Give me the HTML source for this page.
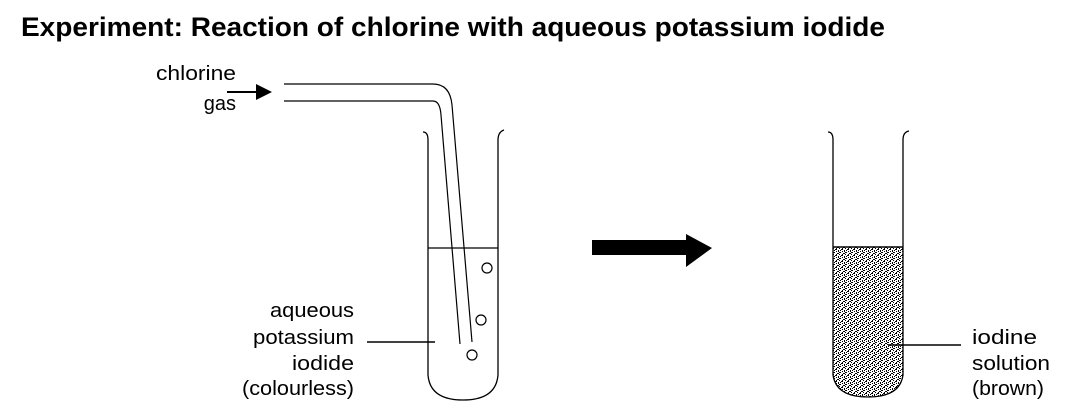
<!DOCTYPE html>
<html><head><meta charset="utf-8"><style>
html,body{margin:0;padding:0;background:#fff;width:1090px;height:420px;overflow:hidden}
svg{display:block}
text{font-family:"Liberation Sans",sans-serif;fill:#000}
</style></head><body>
<svg width="1090" height="420" viewBox="0 0 1090 420" xmlns="http://www.w3.org/2000/svg">
<defs>
<pattern id="st" width="6" height="6" patternUnits="userSpaceOnUse">
<rect width="6" height="6" fill="#fff"/>
<rect x="0" y="0" width="1" height="1" fill="#000"/>
<rect x="3" y="1" width="2" height="1" fill="#000"/>
<rect x="1" y="3" width="2" height="1" fill="#000"/>
<rect x="4" y="4" width="1" height="2" fill="#000"/>
<rect x="2" y="5" width="1" height="1" fill="#000"/>
<rect x="5" y="2" width="1" height="1" fill="#000"/>
<rect x="0" y="4" width="1" height="1" fill="#000"/>
<rect x="2" y="2" width="1" height="1" fill="#000"/>
<rect x="5" y="0" width="1" height="1" fill="#000"/>
</pattern>
</defs>
<text x="21" y="36" font-size="27" font-weight="bold" textLength="864" lengthAdjust="spacingAndGlyphs">Experiment: Reaction of chlorine with aqueous potassium iodide</text>

<text x="236" y="80" font-size="20" text-anchor="end" textLength="80" lengthAdjust="spacingAndGlyphs">chlorine</text>
<text x="236" y="110" font-size="20" text-anchor="end">gas</text>
<line x1="227" y1="92" x2="258" y2="92" stroke="#000" stroke-width="2"/>
<polygon points="256,84 272,92 256,100" fill="#000"/>

<path d="M284 84 L433 84 Q450 84 452 105 L472 342" fill="none" stroke="#000" stroke-width="1.2"/>
<path d="M284 101 L433 101 Q440 101 441 115 L460 344" fill="none" stroke="#000" stroke-width="1.2"/>

<path d="M423 132 Q428 132 428 140 L428 375 Q430 400 463 400 Q496 400 498 375 L498 140 Q498 132 504 130" fill="none" stroke="#000" stroke-width="1.3"/>
<line x1="428" y1="248" x2="498" y2="248" stroke="#000" stroke-width="1.2"/>
<circle cx="487" cy="268" r="5" fill="#fff" stroke="#000" stroke-width="1.2"/>
<circle cx="481" cy="320" r="5" fill="#fff" stroke="#000" stroke-width="1.2"/>
<circle cx="472" cy="355" r="5" fill="#fff" stroke="#000" stroke-width="1.2"/>

<text x="354" y="317" font-size="20" text-anchor="end" textLength="84" lengthAdjust="spacingAndGlyphs">aqueous</text>
<text x="354" y="344" font-size="20" text-anchor="end" textLength="101" lengthAdjust="spacingAndGlyphs">potassium</text>
<text x="354" y="370" font-size="20" text-anchor="end" textLength="62" lengthAdjust="spacingAndGlyphs">iodide</text>
<text x="354" y="395" font-size="20" text-anchor="end" textLength="112" lengthAdjust="spacingAndGlyphs">(colourless)</text>
<line x1="367" y1="342" x2="435" y2="342" stroke="#000" stroke-width="1.5"/>

<rect x="592" y="240" width="96" height="15" fill="#000"/>
<polygon points="686,234 712,248 686,267" fill="#000"/>

<path d="M833 247 L903 247 L903 375 Q900 397 868 397 Q836 397 833 375 Z" fill="url(#st)"/>
<path d="M828 132 Q833 132 833 140 L833 375 Q836 397 868 397 Q900 397 903 375 L903 140 Q903 132 909 131" fill="none" stroke="#000" stroke-width="1.3"/>
<line x1="833" y1="247" x2="903" y2="247" stroke="#000" stroke-width="1.5"/>
<line x1="888" y1="345" x2="961" y2="345" stroke="#000" stroke-width="1.5"/>
<text x="972" y="344" font-size="20" textLength="65" lengthAdjust="spacingAndGlyphs">iodine</text>
<text x="972" y="370" font-size="20" textLength="78" lengthAdjust="spacingAndGlyphs">solution</text>
<text x="972" y="395" font-size="20" textLength="72" lengthAdjust="spacingAndGlyphs">(brown)</text>
</svg>
</body></html>
